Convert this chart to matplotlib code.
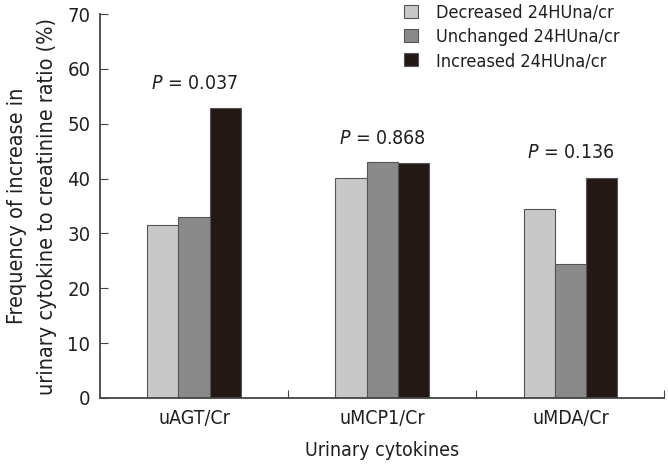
import matplotlib
matplotlib.use("Agg")
import matplotlib.pyplot as plt
import numpy as np

# narrow face to get close to the condensed grotesque of the reference
plt.rcParams['font.family'] = ['DejaVu Sans']
plt.rcParams['font.stretch'] = 'condensed'
plt.rcParams['mathtext.fontset'] = 'custom'
plt.rcParams['mathtext.rm'] = 'DejaVu Sans:stretch=condensed'
plt.rcParams['mathtext.it'] = 'DejaVu Sans:italic:stretch=condensed'

# data
categories = ['uAGT/Cr', 'uMCP1/Cr', 'uMDA/Cr']
series_names = ['Decreased 24HUna/cr', 'Unchanged 24HUna/cr', 'Increased 24HUna/cr']
decreased = [31.5, 40.2, 34.4]
unchanged = [33.0, 43.0, 24.4]
increased = [52.9, 42.9, 40.1]
p_labels = ['0.037', '0.868', '0.136']
p_y = [57.3, 47.4, 44.7]

colors = ['#c8c8c8', '#8a8a8a', '#231816']
series = [decreased, unchanged, increased]
text_color = '#231f20'

fig = plt.figure(figsize=(6.68, 4.71), dpi=100)
ax = fig.add_axes([0.1497, 0.155, 0.845, 0.815])

centers = np.arange(len(categories)) + 0.5
width = 0.166
for i, (vals, name) in enumerate(zip(series, series_names)):
    ax.bar(centers + (i - 1) * width, vals, width, color=colors[i],
           edgecolor='#555555', linewidth=0.8, label=name)

# p-value annotations
for x, y, p in zip(centers, p_y, p_labels):
    ax.text(x, y, r'$\it{P}$' + ' = ' + p, ha='center', va='center', fontsize=14,
            color=text_color)

ax.set_xlim(0, 3)
ax.set_ylim(0, 70)
ax.set_yticks(np.arange(0, 71, 10))
ax.set_xticks([1, 2, 3])
ax.set_xticklabels([])
ax.set_xticks(centers, minor=True)
ax.set_xticklabels(categories, minor=True, fontsize=14, color=text_color)
ax.tick_params(axis='x', which='minor', length=0, pad=8)
ax.tick_params(axis='x', which='major', direction='in', length=6, color='#444444')
ax.tick_params(axis='y', direction='in', length=6, color='#444444', labelsize=14.5,
               pad=7, labelcolor=text_color)

for s in ['top', 'right']:
    ax.spines[s].set_visible(False)
for s in ['left', 'bottom']:
    ax.spines[s].set_color('#444444')
    ax.spines[s].set_linewidth(1.3)

ax.set_ylabel('Frequency of increase in\nurinary cytokine to creatinine ratio (%)',
              fontsize=15.5, linespacing=1.65, labelpad=7, color=text_color)
ax.set_xlabel('Urinary cytokines', fontsize=14, labelpad=9, color=text_color)

leg = ax.legend(loc='upper left', bbox_to_anchor=(0.51, 1.07), frameon=False, fontsize=13,
                handlelength=0.75, handleheight=0.75, labelspacing=0.35, handletextpad=1.0)
for t in leg.get_texts():
    t.set_color(text_color)

fig.savefig('out.png', dpi=100)
